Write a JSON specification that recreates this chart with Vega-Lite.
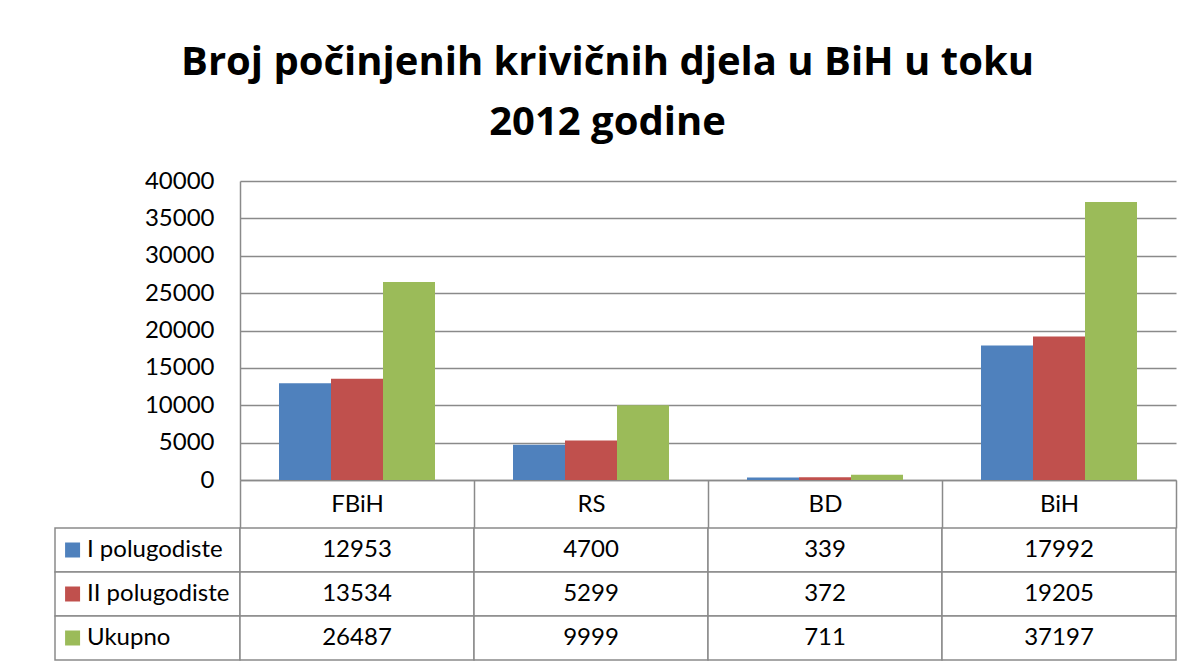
{
  "$schema": "https://vega.github.io/schema/vega-lite/v6.json",
  "padding": {"left": 54, "top": 43, "right": 5, "bottom": 5},
  "background": "white",
  "title": {
    "text": ["Broj počinjenih krivičnih djela u BiH u toku", "2012 godine"],
    "font": "Open Sans",
    "fontSize": 40,
    "fontWeight": "bold",
    "lineHeight": 60,
    "color": "black",
    "anchor": "middle",
    "dx": -8,
    "offset": 26
  },
  "datasets": {
    "rows": [
      {"cat": "FBiH", "series": "I polugodiste", "value": 12953},
      {"cat": "FBiH", "series": "II polugodiste", "value": 13534},
      {"cat": "FBiH", "series": "Ukupno", "value": 26487},
      {"cat": "RS", "series": "I polugodiste", "value": 4700},
      {"cat": "RS", "series": "II polugodiste", "value": 5299},
      {"cat": "RS", "series": "Ukupno", "value": 9999},
      {"cat": "BD", "series": "I polugodiste", "value": 339},
      {"cat": "BD", "series": "II polugodiste", "value": 372},
      {"cat": "BD", "series": "Ukupno", "value": 711},
      {"cat": "BiH", "series": "I polugodiste", "value": 17992},
      {"cat": "BiH", "series": "II polugodiste", "value": 19205},
      {"cat": "BiH", "series": "Ukupno", "value": 37197}
    ],
    "legendRows": [
      {"col": "legend", "series": "I polugodiste"},
      {"col": "legend", "series": "II polugodiste"},
      {"col": "legend", "series": "Ukupno"}
    ],
    "blank": [{"t": ""}]
  },
  "columns": 2,
  "bounds": "flush",
  "align": "each",
  "spacing": {"row": 48, "column": 0},
  "config": {
    "view": {"stroke": null},
    "font": "Lato",
    "axis": {"labelFont": "Lato", "labelColor": "black"}
  },
  "concat": [
    {
      "width": 185,
      "height": 299,
      "data": {"name": "blank"},
      "mark": {"type": "text"},
      "encoding": {"text": {"field": "t"}}
    },
    {
      "width": 936,
      "height": 299,
      "data": {"name": "rows"},
      "mark": {"type": "bar"},
      "encoding": {
        "x": {
          "field": "cat",
          "type": "nominal",
          "scale": {"domain": ["FBiH", "RS", "BD", "BiH"], "paddingInner": 0, "paddingOuter": 0},
          "axis": {
            "title": null,
            "labelAngle": 0,
            "labelFontSize": 24,
            "labelBaseline": "middle",
            "labelPadding": -24,
            "domainColor": "#8a8a8a",
            "domainWidth": 1.5,
            "ticks": true,
            "tickBand": "extent",
            "tickSize": 48,
            "tickColor": "#8a8a8a",
            "tickWidth": 1.5
          }
        },
        "xOffset": {
          "field": "series",
          "type": "nominal",
          "scale": {"domain": ["I polugodiste", "II polugodiste", "Ukupno"], "paddingInner": 0, "paddingOuter": 0.75}
        },
        "y": {
          "field": "value",
          "type": "quantitative",
          "scale": {"domain": [0, 40000], "nice": false},
          "axis": {
            "title": null,
            "values": [0, 5000, 10000, 15000, 20000, 25000, 30000, 35000, 40000],
            "format": "d",
            "labelFontSize": 24,
            "labelPadding": 26,
            "ticks": false,
            "grid": true,
            "gridColor": "#8a8a8a",
            "gridWidth": 1.5,
            "domainColor": "#8a8a8a",
            "domainWidth": 1.5
          }
        },
        "color": {
          "field": "series",
          "type": "nominal",
          "scale": {"domain": ["I polugodiste", "II polugodiste", "Ukupno"], "range": ["#4F81BD", "#C0504D", "#9BBB59"]},
          "legend": null
        }
      }
    },
    {
      "width": 185,
      "height": 132,
      "data": {"name": "legendRows"},
      "encoding": {
        "y": {
          "field": "series",
          "type": "nominal",
          "scale": {"domain": ["I polugodiste", "II polugodiste", "Ukupno"], "paddingInner": 0, "paddingOuter": 0},
          "axis": null
        }
      },
      "layer": [
        {
          "mark": {"type": "rect", "fill": "white", "stroke": "#8a8a8a", "strokeWidth": 1.5},
          "encoding": {
            "x": {"field": "col", "type": "nominal", "scale": {"paddingInner": 0, "paddingOuter": 0}, "axis": null}
          }
        },
        {
          "mark": {"type": "point", "shape": "square", "filled": true, "size": 225, "opacity": 1},
          "encoding": {
            "x": {"field": "col", "type": "nominal", "bandPosition": 0.095, "axis": null},
            "color": {
              "field": "series",
              "type": "nominal",
              "scale": {"domain": ["I polugodiste", "II polugodiste", "Ukupno"], "range": ["#4F81BD", "#C0504D", "#9BBB59"]},
              "legend": null
            }
          }
        },
        {
          "mark": {"type": "text", "align": "left", "dx": 32, "fontSize": 24, "font": "Lato", "color": "black"},
          "encoding": {
            "x": {"field": "col", "type": "nominal", "bandPosition": 0, "axis": null},
            "text": {"field": "series"}
          }
        }
      ]
    },
    {
      "width": 936,
      "height": 132,
      "data": {"name": "rows"},
      "encoding": {
        "x": {
          "field": "cat",
          "type": "nominal",
          "scale": {"domain": ["FBiH", "RS", "BD", "BiH"], "paddingInner": 0, "paddingOuter": 0},
          "axis": null
        },
        "y": {
          "field": "series",
          "type": "nominal",
          "scale": {"domain": ["I polugodiste", "II polugodiste", "Ukupno"], "paddingInner": 0, "paddingOuter": 0},
          "axis": null
        }
      },
      "layer": [
        {"mark": {"type": "rect", "fill": "white", "stroke": "#8a8a8a", "strokeWidth": 1.5}},
        {
          "mark": {"type": "text", "fontSize": 24, "font": "Lato", "color": "black"},
          "encoding": {"text": {"field": "value", "type": "quantitative", "format": "d"}}
        }
      ]
    }
  ]
}
